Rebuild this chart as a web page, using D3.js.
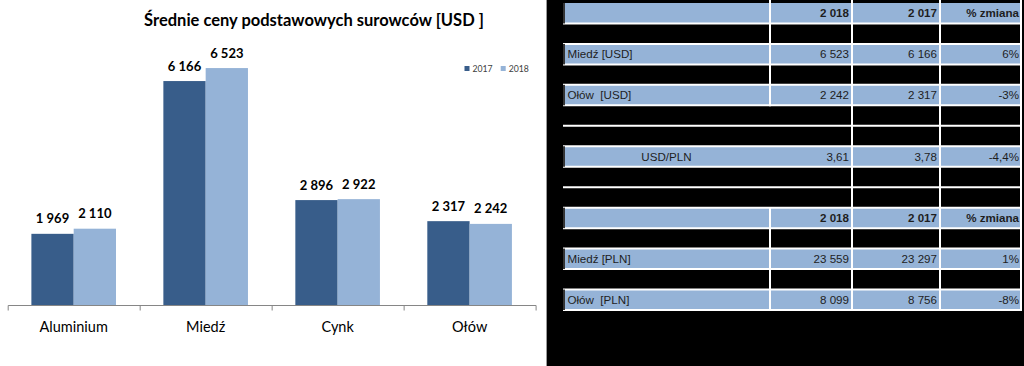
<!DOCTYPE html>
<html><head><meta charset="utf-8">
<script src="https://cdn.jsdelivr.net/npm/d3@7"></script>
<style>html,body{margin:0;padding:0;background:#fff;} svg{display:block}</style>
</head><body>
<svg id="c" width="1024" height="366"></svg>
<script>
// ---------- data ----------
const categories = ["Aluminium", "Miedź", "Cynk", "Ołów"];
const seriesNames = ["2017", "2018"];
const values2017 = [1969, 6166, 2896, 2317];
const values2018 = [2110, 6523, 2922, 2242];
const yDomainMax = 7000;
const chartTitle = "Średnie ceny podstawowych surowców [USD ]";

const tableHeader = ["", "2 018", "2 017", "% zmiana"];
const usdLabels = ["Miedź [USD]", "Ołów  [USD]"];
const usd2018 = [6523, 2242];
const usd2017 = [6166, 2317];
const usdChange = ["6%", "-3%"];
const fxRow = ["USD/PLN", "3,61", "3,78", "-4,4%"];
const plnLabels = ["Miedź [PLN]", "Ołów  [PLN]"];
const pln2018 = [23559, 8099];
const pln2017 = [23297, 8756];
const plnChange = ["1%", "-8%"];

// ---------- setup ----------
const fmt = d3.formatLocale({decimal: ",", thousands: " ", grouping: [3], currency: ["", ""]}).format(",d");
const svg = d3.select("#c");
svg.append("rect").attr("width", 1024).attr("height", 366).attr("fill", "#fff");

// ---------- bar chart ----------
const x0 = d3.scaleBand().domain(categories).range([7.7, 535.6]).paddingInner(0).paddingOuter(0);
const x1 = d3.scaleBand().domain(seriesNames).range([0, x0.bandwidth()]).paddingInner(0).paddingOuter(0.56);
const y = d3.scaleLinear().domain([0, yDomainMax]).range([305.5, 50.7]);
const color = d3.scaleOrdinal().domain(seriesNames).range(["#385D8A", "#95B3D7"]);

const groups = categories.map((c, i) => ({cat: c, vals: [{k: "2017", v: values2017[i]}, {k: "2018", v: values2018[i]}]}));

const g = svg.append("g");
const cg = g.selectAll("g.cat").data(groups).join("g").attr("class", "cat")
  .attr("transform", d => `translate(${x0(d.cat)},0)`);
cg.selectAll("rect").data(d => d.vals).join("rect")
  .attr("x", d => x1(d.k)).attr("width", x1.bandwidth())
  .attr("y", d => y(d.v)).attr("height", d => y(0) - y(d.v))
  .attr("fill", d => color(d.k));
cg.selectAll("text").data(d => d.vals).join("text")
  .attr("x", d => x1(d.k) + x1.bandwidth() / 2)
  .attr("y", d => y(d.v) - 10.5)
  .attr("text-anchor", "middle")
  .attr("font-family", "Lato, sans-serif").attr("font-weight", "bold").attr("font-size", 13)
  .attr("fill", "#000")
  .text(d => fmt(d.v));

// axis
const ax = g.append("g").attr("transform", "translate(0,305)")
  .call(d3.axisBottom(x0).tickSize(0).tickSizeOuter(0));
ax.select(".domain").attr("stroke", "#868686");
ax.selectAll(".tick text").attr("y", 26.5).attr("dy", 0)
  .attr("font-family", "Lato, sans-serif").attr("font-size", 14.5).attr("fill", "#000");
const bounds = categories.map(c => x0(c)).concat([x0.range()[1]]);
g.selectAll("line.bt").data(bounds).join("line").attr("class", "bt")
  .attr("x1", d => d + 0.5).attr("x2", d => d + 0.5)
  .attr("y1", 305.5).attr("y2", 310.5).attr("stroke", "#868686");

// title
g.append("text").attr("x", 314).attr("y", 25.5).attr("text-anchor", "middle")
  .attr("font-family", "Lato, sans-serif").attr("font-weight", "bold").attr("font-size", 16.5)
  .attr("fill", "#000").style("white-space", "pre").text(chartTitle);

// legend
const legX = [464.5, 500.7];
const lg = g.selectAll("g.leg").data(seriesNames).join("g").attr("class", "leg")
  .attr("transform", (d, i) => `translate(${legX[i]},0)`);
lg.append("rect").attr("x", 0).attr("y", 66).attr("width", 5).attr("height", 5).attr("fill", d => color(d));
lg.append("text").attr("x", 8).attr("y", 71.5)
  .attr("font-family", "Lato, sans-serif").attr("font-size", 8.7).attr("fill", "#404040").text(d => d);

// ---------- table panel ----------
svg.append("rect").attr("x", 546).attr("y", 0).attr("width", 478).attr("height", 366).attr("fill", "#000");
svg.append("line").attr("x1", 546.5).attr("x2", 546.5).attr("y1", 0).attr("y2", 366).attr("stroke", "#9a9a9a");

const tX = [563, 770, 852, 940, 1021];
const tTop = 3, tBottom = 310;
const layout = [
  {type: "header", cells: tableHeader},
  {type: "blank"},
  {type: "data", cells: [usdLabels[0], fmt(usd2018[0]), fmt(usd2017[0]), usdChange[0]]},
  {type: "blank"},
  {type: "data", cells: [usdLabels[1], fmt(usd2018[1]), fmt(usd2017[1]), usdChange[1]]},
  {type: "gap"}, {type: "gap"},
  {type: "fx", cells: fxRow},
  {type: "gap"}, {type: "gap"},
  {type: "header", cells: tableHeader},
  {type: "blank"},
  {type: "data", cells: [plnLabels[0], fmt(pln2018[0]), fmt(pln2017[0]), plnChange[0]]},
  {type: "blank"},
  {type: "data", cells: [plnLabels[1], fmt(pln2018[1]), fmt(pln2017[1]), plnChange[1]]}
];
const ry = d3.scaleBand().domain(d3.range(layout.length)).range([tTop, tBottom]);
const rowH = ry.bandwidth();
const tg = svg.append("g");
const isBlue = t => t === "header" || t === "data" || t === "fx";

// blue rows
tg.selectAll("rect.row").data(layout.map((d, i) => ({...d, i})).filter(d => isBlue(d.type)))
  .join("rect").attr("class", "row")
  .attr("x", tX[0]).attr("width", tX[4] - tX[0])
  .attr("y", d => ry(d.i)).attr("height", rowH).attr("fill", "#95B3D7");

// horizontal white lines (row bottoms)
tg.selectAll("line.h").data(d3.range(layout.length)).join("line").attr("class", "h")
  .attr("x1", tX[0]).attr("x2", tX[4] + 1)
  .attr("y1", i => ry(i) + rowH).attr("y2", i => ry(i) + rowH)
  .attr("stroke", "#fff").attr("stroke-width", 2);

// vertical white lines
tg.selectAll("line.v").data([tX[2], tX[3], tX[4]]).join("line").attr("class", "v")
  .attr("x1", d => d).attr("x2", d => d).attr("y1", 0).attr("y2", tBottom + 1)
  .attr("stroke", "#fff").attr("stroke-width", 2);
tg.selectAll("line.v1").data(layout.map((d, i) => ({...d, i})).filter(d => d.type !== "gap" && d.type !== "fx"))
  .join("line").attr("class", "v1")
  .attr("x1", tX[1]).attr("x2", tX[1])
  .attr("y1", d => d.i === 0 ? 0 : ry(d.i)).attr("y2", d => ry(d.i) + rowH + 1)
  .attr("stroke", "#fff").attr("stroke-width", 2);

// dark left edge of blue rows
tg.selectAll("rect.edge").data(layout.map((d, i) => ({...d, i})).filter(d => isBlue(d.type)))
  .join("rect").attr("class", "edge")
  .attr("x", tX[0]).attr("width", 2).attr("y", d => ry(d.i)).attr("height", rowH)
  .attr("fill", "#333");

// texts
const textRows = layout.map((d, i) => ({...d, i})).filter(d => d.cells);
textRows.forEach(r => {
  const yy = ry(r.i) + rowH / 2 + 4;
  const bold = r.type === "header";
  r.cells.forEach((t, ci) => {
    if (!t) return;
    let xx, anchor;
    if (ci === 0) {
      if (r.type === "fx") { xx = (tX[0] + tX[1]) / 2; anchor = "middle"; }
      else { xx = 567.5; anchor = "start"; }
    } else { xx = tX[ci + 1] - (ci === 3 ? 2 : 3); anchor = "end"; }
    tg.append("text").attr("x", xx).attr("y", yy).attr("text-anchor", anchor)
      .attr("font-family", "'Liberation Sans', Arial, sans-serif")
      .attr("font-size", 11.6).attr("font-weight", bold ? "bold" : "normal")
      .attr("fill", "#1e1e1e").style("white-space", "pre").text(t);
  });
});
</script>
</body></html>
